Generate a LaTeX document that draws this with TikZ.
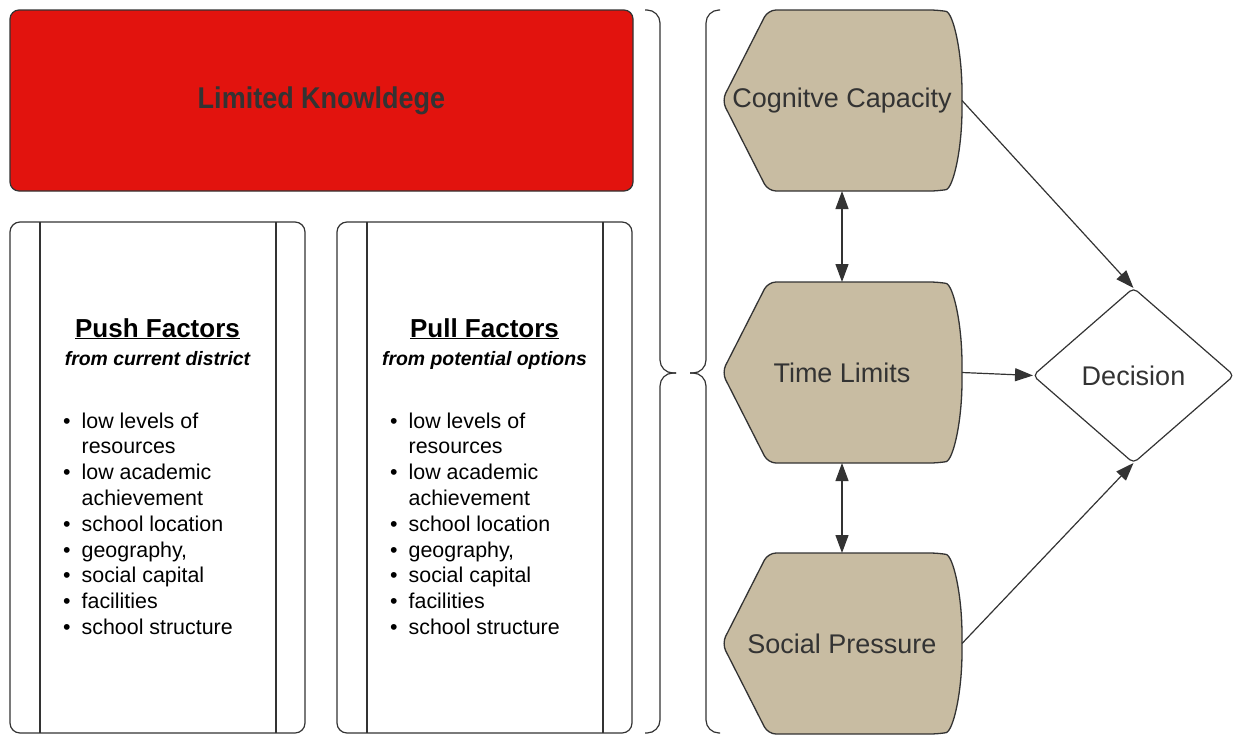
\documentclass[tikz,border=0pt]{standalone}
\usepackage{fontspec}
\setmainfont{Liberation Sans}
\newfontfamily\narrowfont[FakeStretch=0.9]{Liberation Sans}
\usetikzlibrary{arrows.meta, shapes.geometric, calc}

\definecolor{knowred}{HTML}{E2130E}
\definecolor{disptan}{HTML}{C8BCA2}
\definecolor{ink}{HTML}{333333}

% bullet list shared by both factor boxes
\newcommand{\factorlist}{%
  \begin{tabular}[t]{@{}l@{\hskip 11pt}l@{}}
    \textbullet & low levels of\\
                & resources\\
    \textbullet & low academic\\
                & achievement\\
    \textbullet & school location\\
    \textbullet & geography,\\
    \textbullet & social capital\\
    \textbullet & facilities\\
    \textbullet & school structure
  \end{tabular}}

\begin{document}
\begin{tikzpicture}[
  x=1pt, y=-1pt,
  knowbox/.style={draw=ink, line width=1.2pt, fill=knowred, rounded corners=9pt, minimum width=623pt, minimum height=181pt, text=ink, font=\narrowfont\bfseries\fontsize{30}{34}\selectfont},
  factorbox/.style={draw=ink, line width=1.2pt, rounded corners=10pt, minimum width=295pt, minimum height=511pt, outer sep=0pt},
  ttl/.style={anchor=base, font=\bfseries\fontsize{26}{30}\selectfont},
  subttl/.style={anchor=base, font=\bfseries\itshape\fontsize{19.4}{23}\selectfont},
  items/.style={anchor=base west, inner sep=0pt, font=\fontsize{21.4}{25.8}\selectfont},
  disp/.style={draw=ink, line width=1.3pt, fill=disptan, rounded corners=8pt},
  disptext/.style={minimum width=240pt, minimum height=181pt, inner sep=0pt, outer sep=0pt, text=ink, font=\fontsize{27}{30}\selectfont},
  dec/.style={diamond, draw=ink, line width=1.2pt, rounded corners=5pt, minimum width=201pt, minimum height=175pt, inner sep=0pt, outer sep=0pt, text=ink, font=\fontsize{27}{30}\selectfont},
  brace/.style={draw=ink, line width=1.2pt, rounded corners=13pt},
  link/.style={draw=ink, line width=1.2pt, -{Triangle[length=18pt,width=13pt]}},
  both/.style={draw=ink, line width=1.2pt, {Triangle[length=18pt,width=13pt]}-{Triangle[length=18pt,width=13pt]}}
]
\useasboundingbox (0,0) rectangle (1233,734);

% left: knowledge and factors
\node[knowbox] (know) at (321.5,100.5) {\raisebox{4pt}{Limited Knowldege}};

\foreach \x/\nm/\t/\s in {157.5/push/Push Factors/from current district, 484.5/pull/Pull Factors/from potential options}{
  \node[factorbox] (\nm) at (\x,477.5) {};
  \draw[draw=ink, line width=1.2pt] ($(\nm.north west)+(30,0)$) -- ($(\nm.south west)+(30,0)$);
  \draw[draw=ink, line width=1.2pt] ($(\nm.north east)+(-29,0)$) -- ($(\nm.south east)+(-29,0)$);
  \node[ttl] (\nm ttl) at (\x,337) {\underline{\t}};
  \node[subttl] (\nm sub) at (\x,365) {\s};
  \node[items] (\nm list) at (\x-94.5,428) {\factorlist};
}

% braces
\draw[brace] (645,10) -- (660,10) -- (660,373) -- (676,373);
\draw[brace] (676,373) -- (660,373) -- (660,733) -- (645,733);
\draw[brace] (720,10) -- (706,10) -- (706,373) -- (690,373);
\draw[brace] (690,373) -- (706,373) -- (706,733) -- (720,733);

% right: display shapes
\foreach \y/\nm/\txt in {100.5/cog/Cognitve Capacity, 372.5/time/Time Limits, 643.5/soc/Social Pressure}{
  \draw[disp] (768,\y-90.5) -- (722,\y) -- (768,\y+90.5) -- (938,\y+90.5)
    .. controls (953,\y+88) and (962,\y+50) .. (962,\y)
    .. controls (962,\y-50) and (953,\y-88) .. (938,\y-90.5) -- cycle;
  \node[disptext] (\nm) at (842,\y) {\txt};
}

\node[dec] (dec) at (1133.5,375.5) {Decision};

\draw[link] (cog.east) -- (dec.north);
\draw[link] (time.east) -- (dec.west);
\draw[link] (soc.east) -- (dec.south);
\draw[both] (cog.south) -- (time.north);
\draw[both] (time.south) -- (soc.north);

\end{tikzpicture}
\end{document}
